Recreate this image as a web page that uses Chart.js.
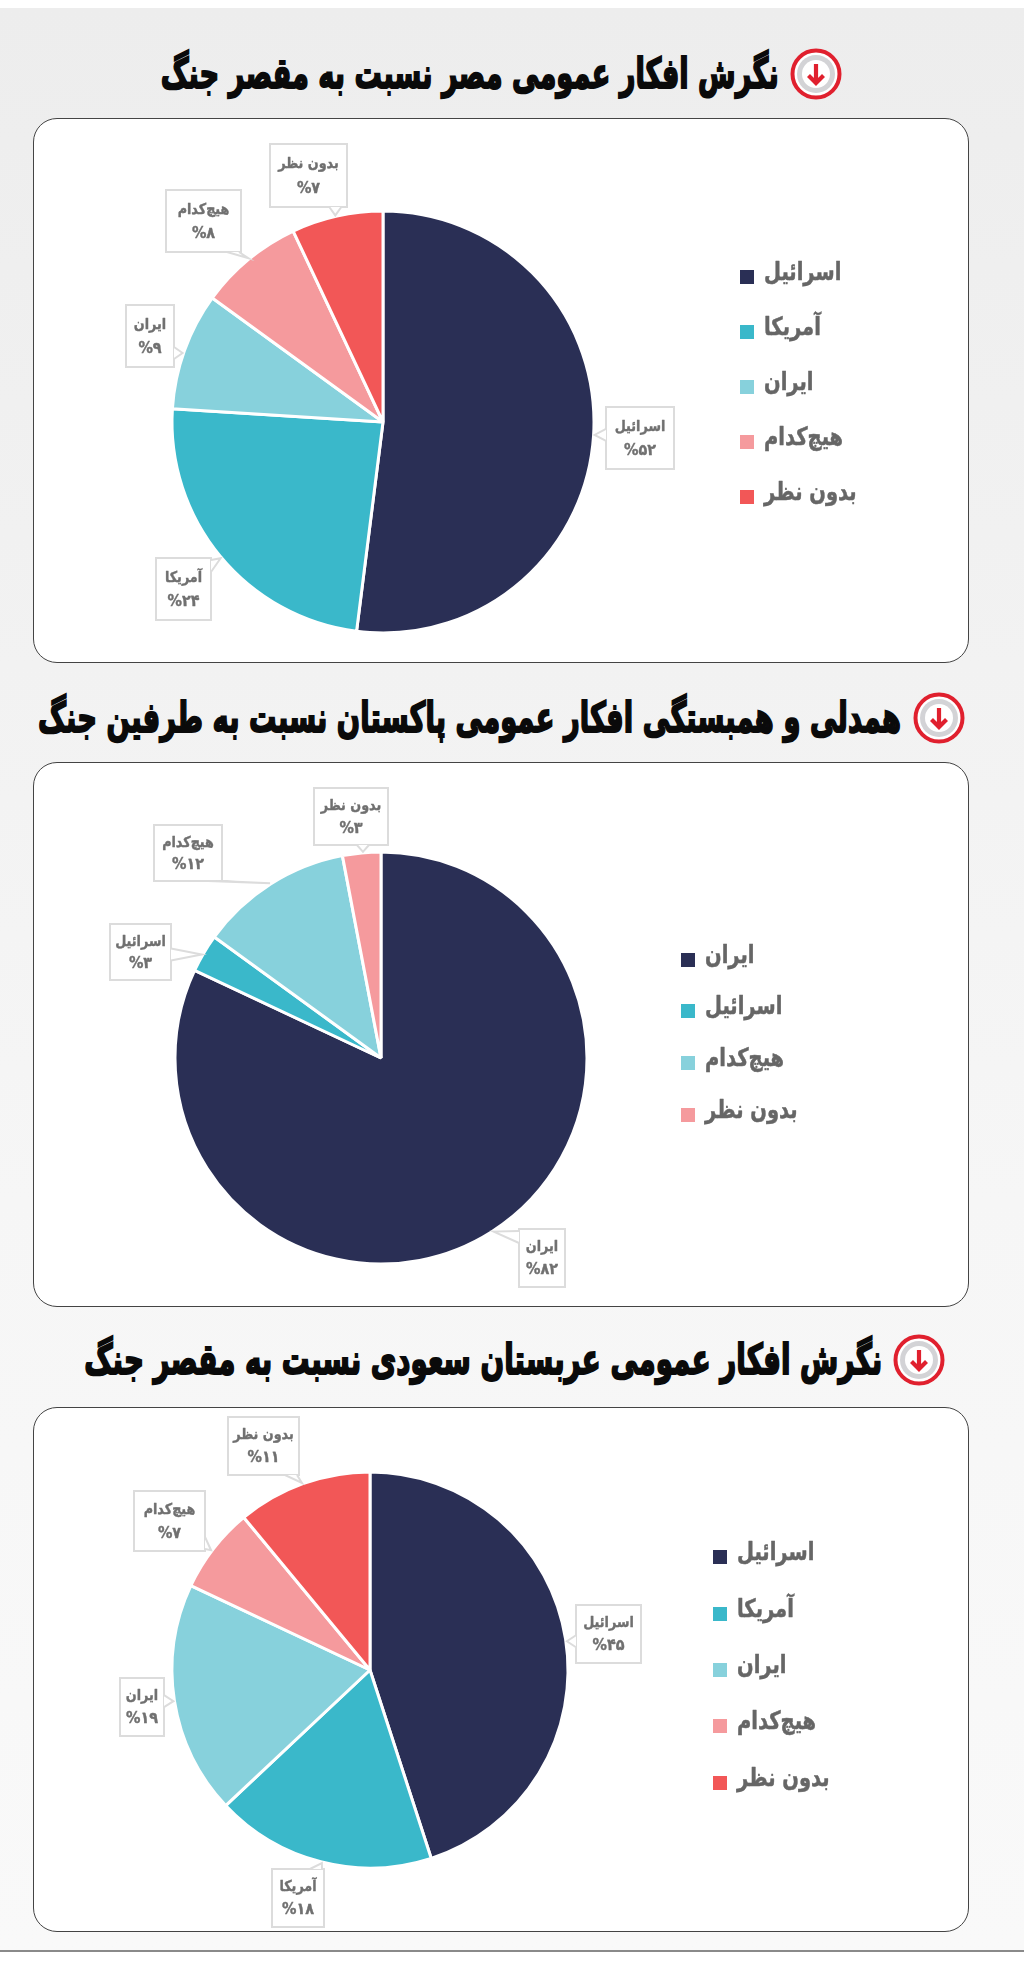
<!DOCTYPE html>
<html lang="fa">
<head>
<meta charset="utf-8">
<title>نگرش افکار عمومی</title>
<script src="https://cdn.jsdelivr.net/npm/chart.js@4"></script>
<style>
  html, body { margin: 0; padding: 0; }
  body {
    position: relative; width: 1024px; height: 1975px; overflow: hidden;
    background: linear-gradient(#ededed 8px, #f0f0f0 400px, #f6f6f6 1200px, #f9f9f9 1950px);
    font-family: "DejaVu Sans", sans-serif;
  }
  #topStrip { position: absolute; left: 0; top: 0; width: 1024px; height: 8px; background: #fff; }
  #bottomStrip { position: absolute; left: 0; top: 1950px; width: 1024px; height: 25px; background: #fff; border-top: 2px solid #8a8a8a; box-sizing: border-box; }
  .panel { position: absolute; background: #fff; border: 1.5px solid #444; border-radius: 24px; box-sizing: border-box; }
  .panel canvas { position: absolute; left: 0; top: 0; }
  .title {
    position: absolute; white-space: nowrap; direction: rtl; color: #0a0a0a;
    font-weight: 700; font-size: 42px; line-height: 52px; -webkit-text-stroke: 2px #0a0a0a;
    transform-origin: right center;
  }
  .icon { position: absolute; width: 52px; height: 52px; }
</style>
</head>
<body>
<div id="topStrip"></div>
<div id="bottomStrip"></div>
<script>
// values
const egyptLabels = ["اسرائیل", "آمریکا", "ایران", "هیچ‌کدام", "بدون نظر"];
const egyptValues = [52, 24, 9, 8, 7];
const pakistanLabels = ["ایران", "اسرائیل", "هیچ‌کدام", "بدون نظر"];
const pakistanValues = [82, 3, 12, 3];
const saudiLabels = ["اسرائیل", "آمریکا", "ایران", "هیچ‌کدام", "بدون نظر"];
const saudiValues = [45, 18, 19, 7, 11];

const fiveColors = ["#2a2f55", "#3ab8ca", "#87d1dc", "#f59a9d", "#f25757"];
const fourColors = ["#2a2f55", "#3ab8ca", "#87d1dc", "#f59a9d"];

const charts = [
  {
    title: "نگرش افکار عمومی مصر نسبت به مقصر جنگ",
    titleBox: { left: 161, right: 779, cy: 74 }, iconX: 816,
    labels: egyptLabels, values: egyptValues, colors: fiveColors,
    panel: { x: 33, y: 118, w: 936, h: 545 },
    pie: { cx: 382, cy: 421, r: 211 },
    legend: { x: 739, ys: [276, 331, 386, 441, 496], font: 25 },
    // callout boxes in page pixels and the rim angle of each pointer, same order as the slices
    boxes: [[605, 406, 68, 62], [155, 557, 55, 62], [125, 304, 48, 62], [165, 189, 75, 62], [269, 143, 77, 63]],
    tips: [93.5, 230, 289, 320.6, 347]
  },
  {
    title: "همدلی و همبستگی افکار عمومی پاکستان نسبت به طرفین جنگ",
    titleBox: { left: 38, right: 901, cy: 718 }, iconX: 939,
    labels: pakistanLabels, values: pakistanValues, colors: fourColors,
    panel: { x: 33, y: 762, w: 936, h: 545 },
    pie: { cx: 380, cy: 1057, r: 206 },
    legend: { x: 680, ys: [959, 1010, 1062, 1114], font: 25 },
    boxes: [[518, 1228, 46, 58], [109, 923, 61, 56], [153, 824, 68, 56], [313, 787, 74, 57]],
    tips: [147, 300, 327.6, 355]
  },
  {
    title: "نگرش افکار عمومی عربستان سعودی نسبت به مقصر جنگ",
    titleBox: { left: 84, right: 882, cy: 1360 }, iconX: 919,
    labels: saudiLabels, values: saudiValues, colors: fiveColors,
    panel: { x: 33, y: 1407, w: 936, h: 525 },
    pie: { cx: 369, cy: 1669, r: 198 },
    legend: { x: 712, ys: [1556, 1613, 1669, 1725, 1782], font: 25 },
    boxes: [[575, 1604, 65, 58], [271, 1868, 52, 58], [119, 1677, 44, 58], [133, 1490, 71, 60], [227, 1416, 71, 58]],
    tips: [81.7, 194, 261, 307, 340]
  }
];

function toPersian(n) {
  return "%" + String(n).replace(/\d/g, (d) => "۰۱۲۳۴۵۶۷۸۹"[d]);
}

// condensed text, the font on the machine is wider than the one in the picture
function squeezedText(ctx, text, x, y, xScale, strokeWidth) {
  ctx.save();
  ctx.translate(x, y);
  ctx.scale(xScale, 1);
  ctx.strokeStyle = ctx.fillStyle;
  ctx.lineWidth = strokeWidth;
  ctx.lineJoin = "round";
  ctx.strokeText(text, 0, 0);
  ctx.fillText(text, 0, 0);
  ctx.restore();
}

// callout frames and the legend are drawn on top of the pie
const annotations = {
  id: "annotations",
  afterDatasetsDraw(chart, args, opts) {
    const ctx = chart.ctx;
    const spec = opts.spec;
    const px = spec.panel.x, py = spec.panel.y;
    const arc = chart.getDatasetMeta(0).data[0];
    const cx = arc.x, cy = arc.y, r = arc.outerRadius;

    ctx.save();
    spec.boxes.forEach((b, i) => {
      const x = b[0] - px, y = b[1] - py, w = b[2], h = b[3];
      const mx = x + w / 2;
      const a = spec.tips[i] * Math.PI / 180;
      const tipX = cx + Math.sin(a) * (r + 1);
      const tipY = cy - Math.cos(a) * (r + 1);

      ctx.fillStyle = "#fff";
      ctx.strokeStyle = "#dcdcdc";
      ctx.lineWidth = 2;
      ctx.beginPath();
      ctx.rect(x, y, w, h);
      ctx.fill();
      ctx.stroke();

      // little pointer from the nearest box edge to the rim
      const baseX = Math.max(x + 8, Math.min(x + w - 8, tipX));
      const baseY = Math.max(y + 8, Math.min(y + h - 8, tipY));
      ctx.beginPath();
      if (tipY < y || tipY > y + h) {
        const edge = tipY < y ? y : y + h;
        ctx.moveTo(baseX - 6, edge);
        ctx.lineTo(tipX, tipY);
        ctx.lineTo(baseX + 6, edge);
      } else {
        const edge = tipX < x ? x : x + w;
        ctx.moveTo(edge, baseY - 6);
        ctx.lineTo(tipX, tipY);
        ctx.lineTo(edge, baseY + 6);
      }
      ctx.fill();
      ctx.stroke();

      ctx.fillStyle = "#707070";
      ctx.textAlign = "center";
      ctx.textBaseline = "middle";
      ctx.direction = "rtl";
      ctx.font = "bold 15px 'DejaVu Sans'";
      squeezedText(ctx, chart.data.labels[i], mx, y + h * 0.32, 0.85, 0.4);
      ctx.font = "bold 16px 'DejaVu Sans'";
      squeezedText(ctx, toPersian(chart.data.datasets[0].data[i]), mx, y + h * 0.71, 0.9, 0.4);
    });

    const lg = spec.legend;
    chart.data.labels.forEach((label, i) => {
      const y = lg.ys[i] - py, x = lg.x - px;
      ctx.fillStyle = chart.data.datasets[0].backgroundColor[i];
      ctx.fillRect(x, y - 7, 14, 14);
      ctx.fillStyle = "#666";
      ctx.textBaseline = "middle";
      ctx.direction = "rtl";
      ctx.textAlign = "right";
      ctx.font = "bold " + lg.font + "px 'DejaVu Sans'";
      const w = ctx.measureText(label).width * 0.78;
      squeezedText(ctx, label, x + 24 + w, y - 4, 0.78, 0.5);
    });
    ctx.restore();
  }
};

function iconSvg(x, cy) {
  return `<svg class="icon" style="left:${x - 26}px;top:${cy - 26}px" viewBox="0 0 52 52">
    <circle cx="26" cy="26" r="23.5" fill="#fff" stroke="#e0202e" stroke-width="4"/>
    <circle cx="26" cy="26" r="19" fill="#d3d3d6"/>
    <circle cx="26" cy="26" r="14" fill="#fff"/>
    <path d="M26 16V35M18.5 27.5L26 35L33.5 27.5" fill="none" stroke="#e0202e" stroke-width="4.2"/>
  </svg>`;
}

function buildChart(spec) {
  const title = document.createElement("div");
  title.className = "title";
  title.textContent = spec.title;
  title.style.right = 1024 - spec.titleBox.right + "px";
  title.style.top = spec.titleBox.cy - 26 + "px";
  document.body.appendChild(title);
  const scale = (spec.titleBox.right - spec.titleBox.left) / title.getBoundingClientRect().width;
  title.style.transform = "scaleX(" + scale + ")";
  document.body.insertAdjacentHTML("beforeend", iconSvg(spec.iconX, spec.titleBox.cy));

  const panel = document.createElement("div");
  panel.className = "panel";
  panel.style.cssText = `left:${spec.panel.x}px;top:${spec.panel.y}px;width:${spec.panel.w}px;height:${spec.panel.h}px`;
  const canvas = document.createElement("canvas");
  canvas.width = spec.panel.w;
  canvas.height = spec.panel.h;
  panel.appendChild(canvas);
  document.body.appendChild(panel);

  const half = spec.pie.r + 1.5;
  new Chart(canvas, {
    type: "pie",
    data: {
      labels: spec.labels,
      datasets: [{
        data: spec.values,
        backgroundColor: spec.colors,
        borderColor: "#fff",
        borderWidth: 3,
        hoverOffset: 0
      }]
    },
    options: {
      responsive: false,
      animation: false,
      layout: {
        padding: {
          left: spec.pie.cx - half - spec.panel.x,
          right: spec.panel.x + spec.panel.w - spec.pie.cx - half,
          top: spec.pie.cy - half - spec.panel.y,
          bottom: spec.panel.y + spec.panel.h - spec.pie.cy - half
        }
      },
      plugins: {
        legend: { display: false },
        tooltip: { enabled: false },
        annotations: { spec: spec }
      }
    },
    plugins: [annotations]
  });
}

charts.forEach(buildChart);
</script>
</body>
</html>
